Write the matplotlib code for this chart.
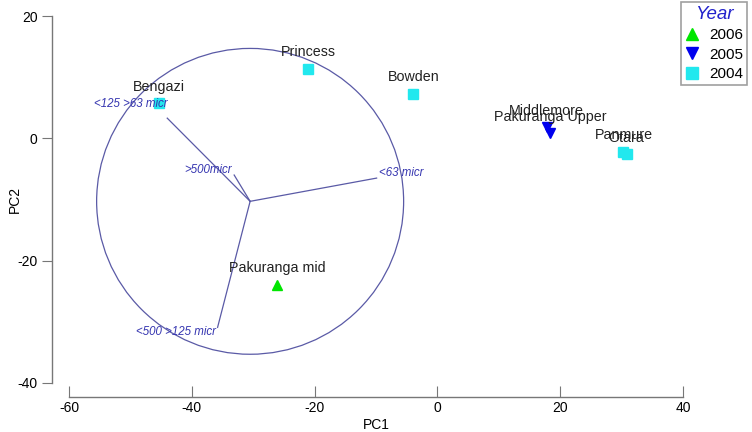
import matplotlib
matplotlib.use("Agg")
from matplotlib import pyplot as plt
from matplotlib.patches import Circle
from matplotlib.lines import Line2D

plt.rcParams['font.family'] = ['Liberation Sans', 'DejaVu Sans']
plt.rcParams['axes.unicode_minus'] = False

# data
sites = ["Princess", "Bowden", "Bengazi", "Pakuranga mid", "Middlemore",
         "Pakuranga Upper", "Panmure", "Otara"]
pc1 = [-21.0, -3.9, -45.3, -26.1, 17.8, 18.4, 30.3, 30.8]
pc2 = [11.4, 7.3, 5.7, -24.0, 1.8, 0.8, -2.2, -2.6]
years = [2004, 2004, 2004, 2006, 2005, 2005, 2004, 2004]

# vectors (grain size)
vec_names = ["<125 >63 micr", ">500micr", "<63 micr", "<500 >125 micr"]
vec_x = [-44.0, -33.1, -9.9, -35.8]
vec_y = [3.3, -6.0, -6.5, -30.9]
vec_lab_x = [-50.0, -37.3, -5.9, -42.5]
vec_lab_y = [5.6, -5.2, -5.6, -31.7]
circ_x, circ_y, circ_r = -30.5, -10.3, 25.0

styles = {2006: ("^", "#00e600"), 2005: ("v", "#0000ee"), 2004: ("s", "#22e8ee")}

fig = plt.figure(figsize=(7.52, 4.32), dpi=100)
ax = fig.add_axes([69/752, 49/432, 614/752, 367/432])

vcol = "#5a5aa6"
ax.add_patch(Circle((circ_x, circ_y), circ_r, fill=False, ec=vcol, lw=0.9))
for i in range(len(vec_names)):
    ax.plot([circ_x, vec_x[i]], [circ_y, vec_y[i]], color=vcol, lw=0.9)
    ax.text(vec_lab_x[i], vec_lab_y[i], vec_names[i], fontsize=8.3, style="italic",
            color="#3535b0", ha="center", va="center")

for i in range(len(sites)):
    m, c = styles[years[i]]
    ax.plot(pc1[i], pc2[i], marker=m, color=c, ms=7, ls="none")
    ax.annotate(sites[i], (pc1[i], pc2[i]), xytext=(0, 7), textcoords="offset points",
                ha="center", va="bottom", fontsize=10.3, color="#222222")

ax.set_xlim(-60, 40)
ax.set_ylim(-40, 20)
ax.set_xticks([-60, -40, -20, 0, 20, 40])
ax.set_yticks([-40, -20, 0, 20])
for s in ["top", "right"]:
    ax.spines[s].set_visible(False)
ax.spines["left"].set_position(("outward", 12))
ax.spines["bottom"].set_position(("outward", 10))
for s in ["left", "bottom"]:
    ax.spines[s].set_color("#777777")
    ax.spines[s].set_linewidth(1.0)
ax.tick_params(axis="x", direction="in", length=8, color="#777777", labelsize=10, pad=3)
ax.tick_params(axis="y", direction="out", length=7, color="#777777", labelsize=10)
ax.set_xlabel("PC1", fontsize=10, labelpad=2)
ax.set_ylabel("PC2", fontsize=10, va="center")
ax.yaxis.set_label_coords(-0.088, 0.5)

handles = [Line2D([], [], marker=styles[y][0], color=styles[y][1], ls="none", ms=8)
           for y in [2006, 2005, 2004]]
leg = fig.legend(handles, ["2006", "2005", "2004"], loc="upper left",
                 bbox_to_anchor=(681/752, 1 - 2/432), title="Year", fontsize=11,
                 frameon=True, fancybox=False, edgecolor="#888888",
                 handlelength=0.9, handletextpad=0.7, borderpad=0.25,
                 labelspacing=0.35, borderaxespad=0)
leg.get_title().set_color("#2222cc")
leg.get_title().set_fontstyle("italic")
leg.get_title().set_fontsize(13.5)
leg.get_frame().set_linewidth(1.2)

plt.savefig("out.png")
